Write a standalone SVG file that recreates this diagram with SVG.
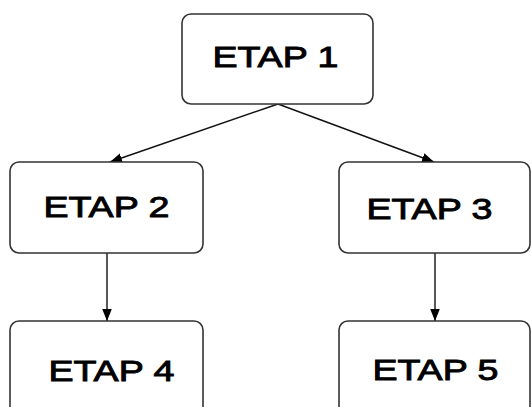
<svg xmlns="http://www.w3.org/2000/svg" width="531" height="407" viewBox="0 0 531 407">
<defs>
<style>
.box{fill:#fff;stroke:#333;stroke-width:1.6}
.lbl{font-family:"Liberation Sans",Arial,sans-serif;font-size:29px;font-weight:normal;fill:#000;stroke:#000;stroke-width:0.9}
.conn{stroke:#111;stroke-width:1.4;fill:none;marker-end:url(#ah)}
</style>
<marker id="ah" markerUnits="userSpaceOnUse" markerWidth="12" markerHeight="12" viewBox="0 0 10 10" refX="10" refY="5" orient="auto">
<path d="M0,1 L10,5 L0,9 Z" fill="#000"/>
</marker>
</defs>
<rect width="531" height="407" fill="#fff"/>
<g id="connectors">
<line class="conn" x1="278" y1="104" x2="110" y2="162"/>
<line class="conn" x1="278" y1="104" x2="434" y2="162"/>
<line class="conn" x1="107" y1="253" x2="107" y2="321"/>
<line class="conn" x1="435" y1="253" x2="435" y2="321"/>
</g>
<g id="etap1"><rect class="box" x="182" y="14" width="191" height="90" rx="9"/><text class="lbl" x="212.4" y="67" textLength="126" lengthAdjust="spacingAndGlyphs">ETAP 1</text></g>
<g id="etap2"><rect class="box" x="10" y="162" width="193" height="91" rx="9"/><text class="lbl" x="43.4" y="217" textLength="126" lengthAdjust="spacingAndGlyphs">ETAP 2</text></g>
<g id="etap3"><rect class="box" x="339" y="162" width="191" height="91" rx="9"/><text class="lbl" x="366.4" y="219" textLength="126" lengthAdjust="spacingAndGlyphs">ETAP 3</text></g>
<g id="etap4"><rect class="box" x="10" y="321" width="193" height="100" rx="9"/><text class="lbl" x="48.4" y="381" textLength="126" lengthAdjust="spacingAndGlyphs">ETAP 4</text></g>
<g id="etap5"><rect class="box" x="339" y="321" width="191" height="100" rx="9"/><text class="lbl" x="372.4" y="380" textLength="126" lengthAdjust="spacingAndGlyphs">ETAP 5</text></g>
</svg>
